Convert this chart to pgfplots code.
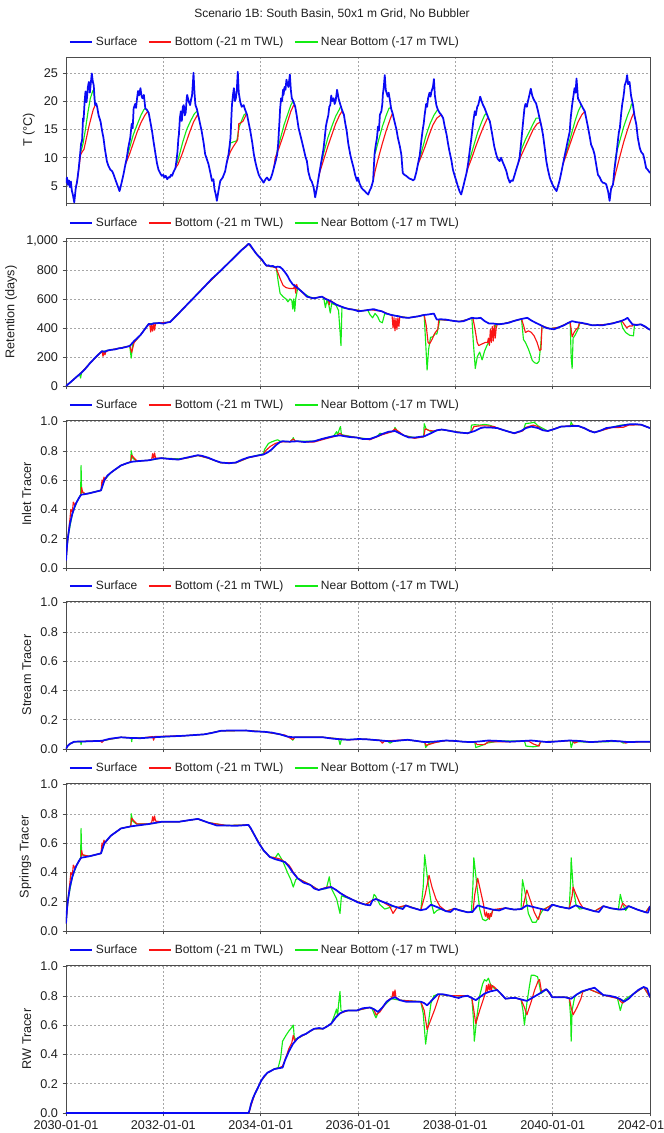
\documentclass[border=0pt]{standalone}
\usepackage{fontspec}
\setmainfont{Liberation Sans}
\usepackage{pgfplots}
\pgfplotsset{compat=1.18}

\definecolor{cblue}{RGB}{10,10,245}
\definecolor{cred}{RGB}{250,20,20}
\definecolor{cgreen}{RGB}{20,235,20}

\pgfplotsset{
  surf/.style={color=cblue, line width=1.3pt, line join=round},
  bot/.style={color=cred, line width=0.85pt, line join=round},
  nbot/.style={color=cgreen, line width=0.85pt, line join=round},
  panel/.style={
    scale only axis, width=438pt, anchor=north west,
    xmin=2030, xmax=2042, xtick={2030,2032,2034,2036,2038,2040,2042},
    xticklabels={},
    grid=major, grid style={dash pattern=on 1.5pt off 1.5pt, gray!70},
    axis line style={gray!60!black},
    tick style={gray!60!black, thin},
    major tick length=2.5pt, tick align=outside, tick pos=left,
    every tick label/.append style={font=\fontsize{9.5}{11}\selectfont, text=black!88},
    ylabel style={font=\fontsize{9.5}{11}\selectfont, text=black!88},
    /pgf/number format/assume math mode=true,
    unbounded coords=jump,
    legend columns=3,
    legend style={at={(0,1)}, anchor=west, xshift=2pt, yshift=11.25pt,
      draw=none, fill=none, inner sep=0pt,
      font=\fontsize{9}{10}\selectfont, text=black!88,
      /tikz/every even column/.append style={column sep=6pt}},
    legend image code/.code={\draw[##1] (0pt,0pt) -- (17pt,0pt);},
  },
  tracer/.style={ymin=0, ymax=1.01, ytick={0,0.2,0.4,0.6,0.8,1},
    yticklabel style={/pgf/number format/.cd, fixed, fixed zerofill, precision=1}},
}

\newcommand{\legendset}{%
  \addlegendimage{surf}\addlegendentry{Surface}
  \addlegendimage{bot, line width=1.1pt}\addlegendentry{Bottom (-21 m TWL)}
  \addlegendimage{nbot, line width=1.1pt}\addlegendentry{Near Bottom (-17 m TWL)}}

\begin{document}
\begin{tikzpicture}
\path[use as bounding box] (0pt,0pt) rectangle (498pt,-849.75pt);
\node[font=\fontsize{9}{10}\selectfont, text=black!88] at (249pt,-10.5pt)
  {Scenario 1B: South Basin, 50x1 m Grid, No Bubbler};

% ---------------- Temperature ----------------
\begin{axis}[panel, at={(49.5pt,-42.75pt)}, height=109.5pt,
  ymin=2, ymax=27.8, ytick={5,10,15,20,25}, ylabel={T (°C)}]
\legendset
\addplot[nbot, forget plot] coordinates {
(2030.29,10.6)(2030.31,11.2)(2030.35,12.5)(2030.40,15.0)(2030.45,18.0)(2030.50,20.5)(2030.55,21.8)(2030.57,22.0)(2030.60,19.3)(2030.61,nan)
(2031.25,10.0)(2031.30,11.5)(2031.38,14.0)(2031.46,15.8)(2031.54,17.5)(2031.60,18.5)(2031.63,18.7)(2031.64,nan)
(2032.28,9.0)(2032.33,10.5)(2032.40,12.8)(2032.48,15.0)(2032.56,16.5)(2032.64,17.8)(2032.69,18.2)(2032.70,nan)
(2033.33,10.0)(2033.36,11.5)(2033.38,12.6)(2033.44,12.8)(2033.51,13.0)(2033.56,15.5)(2033.62,16.8)(2033.66,17.6)(2033.70,17.8)(2033.71,nan)
(2034.31,9.5)(2034.33,10.8)(2034.40,13.2)(2034.48,15.8)(2034.56,17.8)(2034.62,19.3)(2034.64,19.6)(2034.67,20.0)(2034.68,nan)
(2035.23,8.5)(2035.30,11.0)(2035.38,13.5)(2035.46,15.5)(2035.54,17.3)(2035.62,18.6)(2035.64,19.0)(2035.65,nan)
(2036.34,10.6)(2036.36,11.0)(2036.42,13.0)(2036.50,15.5)(2036.58,17.5)(2036.64,18.8)(2036.68,18.7)(2036.69,nan)
(2037.27,9.8)(2037.32,11.5)(2037.40,14.0)(2037.48,16.0)(2037.56,17.5)(2037.62,18.3)(2037.64,18.5)(2037.65,nan)
(2038.26,8.8)(2038.30,9.8)(2038.38,12.2)(2038.46,14.5)(2038.54,16.3)(2038.60,17.5)(2038.64,17.9)(2038.65,nan)
(2039.32,10.0)(2039.36,11.5)(2039.44,13.2)(2039.52,14.6)(2039.60,16.0)(2039.66,17.0)(2039.70,17.0)(2039.73,17.0)(2039.74,nan)
(2040.25,10.0)(2040.30,11.5)(2040.38,14.0)(2040.46,16.5)(2040.53,18.3)(2040.57,19.0)(2040.59,19.3)(2040.60,nan)
(2041.27,8.0)(2041.30,10.5)(2041.38,13.0)(2041.46,15.5)(2041.54,17.5)(2041.60,18.8)(2041.62,19.5)(2041.65,19.3)
};
\addplot[bot, forget plot] coordinates {
(2030.20,4.6)(2030.23,5.9)(2030.27,8.5)(2030.30,10.5)(2030.33,11.0)(2030.37,11.5)(2030.42,13.5)(2030.47,15.5)(2030.52,17.2)(2030.56,18.5)(2030.60,19.3)(2030.61,nan)
(2031.22,8.8)(2031.30,10.5)(2031.38,12.5)(2031.46,14.5)(2031.54,16.2)(2031.62,17.5)(2031.68,18.2)(2031.70,17.9)(2031.71,nan)
(2032.25,8.2)(2032.30,8.8)(2032.38,10.5)(2032.46,12.5)(2032.54,14.5)(2032.62,16.3)(2032.69,17.4)(2032.71,17.6)(2032.73,17.0)(2032.74,nan)
(2033.30,9.0)(2033.34,10.2)(2033.38,11.1)(2033.44,12.0)(2033.51,12.9)(2033.53,13.3)(2033.55,16.0)(2033.60,16.2)(2033.64,16.5)(2033.68,17.2)(2033.71,17.8)(2033.72,17.6)(2033.73,nan)
(2034.27,8.2)(2034.30,10.0)(2034.38,11.8)(2034.46,13.8)(2034.54,16.0)(2034.62,18.2)(2034.68,19.3)(2034.71,19.0)(2034.72,nan)
(2035.19,6.5)(2035.22,7.6)(2035.30,9.8)(2035.38,12.0)(2035.46,14.0)(2035.54,16.0)(2035.62,17.5)(2035.67,18.2)(2035.71,17.6)(2035.72,nan)
(2036.31,5.9)(2036.36,8.0)(2036.42,10.0)(2036.50,12.5)(2036.58,14.8)(2036.66,16.8)(2036.71,17.9)(2036.72,nan)
(2037.23,8.8)(2037.30,10.2)(2037.38,12.0)(2037.46,14.0)(2037.54,15.8)(2037.62,17.0)(2037.71,17.6)(2037.72,nan)
(2038.23,7.3)(2038.26,8.2)(2038.34,10.0)(2038.42,12.0)(2038.50,13.8)(2038.58,15.5)(2038.66,17.0)(2038.68,17.0)(2038.69,nan)
(2039.29,9.0)(2039.36,10.5)(2039.44,12.0)(2039.52,13.5)(2039.60,15.0)(2039.68,16.0)(2039.75,16.3)(2039.77,15.5)(2039.78,nan)
(2040.21,8.8)(2040.28,10.5)(2040.36,12.5)(2040.44,14.5)(2040.52,16.3)(2040.60,17.6)(2040.66,18.2)(2040.67,nan)
(2041.20,4.5)(2041.24,5.3)(2041.30,7.5)(2041.38,10.2)(2041.46,12.8)(2041.54,15.0)(2041.62,17.0)(2041.67,18.0)(2041.68,17.5)
};
\addplot[surf, forget plot] coordinates {
(2030.00,5.5)(2030.02,6.5)(2030.04,5.2)(2030.06,6.0)(2030.08,4.8)(2030.10,5.8)(2030.12,4.2)(2030.14,3.5)(2030.17,2.1)(2030.20,4.6)(2030.23,5.9)(2030.26,8.0)(2030.29,10.6)(2030.31,12.5)(2030.33,13.0)(2030.35,17.0)(2030.36,16.4)(2030.38,19.5)(2030.40,21.7)(2030.42,19.8)(2030.43,20.5)(2030.45,22.5)(2030.47,23.4)(2030.49,21.5)(2030.50,22.3)(2030.53,24.9)(2030.55,23.5)(2030.57,22.8)(2030.59,20.0)(2030.60,19.3)(2030.62,19.6)(2030.64,19.0)(2030.67,17.5)(2030.71,16.4)(2030.74,14.8)(2030.77,13.5)(2030.80,11.5)(2030.84,9.4)(2030.87,8.6)(2030.91,7.9)(2030.95,7.6)(2030.98,7.0)(2031.02,6.0)(2031.05,5.3)(2031.08,4.6)(2031.10,4.1)
(2031.14,5.5)(2031.18,7.0)(2031.22,8.8)(2031.25,10.0)(2031.28,11.8)(2031.32,13.5)(2031.35,16.0)(2031.37,15.2)(2031.39,18.7)(2031.42,19.5)(2031.44,18.8)(2031.46,20.5)(2031.48,21.8)(2031.50,21.0)(2031.53,22.3)(2031.55,21.0)(2031.57,20.5)(2031.60,21.1)(2031.63,18.7)(2031.66,18.5)(2031.70,17.9)(2031.73,16.5)(2031.77,14.6)(2031.80,12.8)(2031.84,10.6)(2031.87,9.0)(2031.90,7.9)(2031.94,7.2)(2031.97,6.8)(2032.00,7.0)(2032.02,6.5)(2032.05,6.8)(2032.08,6.2)(2032.11,6.6)(2032.13,6.5)(2032.16,7.0)(2032.18,6.8)(2032.21,7.5)(2032.25,8.2)
(2032.27,9.5)(2032.29,11.0)(2032.31,13.5)(2032.32,14.1)(2032.34,17.0)(2032.36,18.2)(2032.38,16.5)(2032.40,19.0)(2032.42,19.3)(2032.44,17.5)(2032.46,18.0)(2032.48,20.5)(2032.49,21.1)(2032.52,20.0)(2032.55,19.3)(2032.57,20.3)(2032.59,21.0)(2032.61,23.5)(2032.62,25.0)(2032.64,21.5)(2032.66,19.3)(2032.69,18.6)(2032.73,17.0)(2032.76,15.8)(2032.79,14.6)(2032.83,12.5)(2032.86,10.6)(2032.90,9.6)(2032.93,8.8)(2032.97,7.2)(2033.00,5.9)(2033.03,6.2)(2033.05,4.5)(2033.08,3.4)(2033.10,2.4)(2033.13,4.0)(2033.17,5.9)(2033.22,6.5)(2033.27,7.6)(2033.30,9.0)
(2033.34,10.6)(2033.36,12.0)(2033.38,13.5)(2033.40,17.5)(2033.41,19.3)(2033.43,21.0)(2033.45,22.3)(2033.47,20.0)(2033.49,20.5)(2033.51,22.0)(2033.53,25.2)(2033.55,21.5)(2033.58,19.9)(2033.61,19.0)(2033.65,19.3)(2033.68,18.5)(2033.72,17.6)(2033.75,16.3)(2033.79,14.6)(2033.83,12.5)(2033.86,10.6)(2033.89,9.3)(2033.92,8.2)(2033.96,7.0)(2033.99,6.5)(2034.03,6.0)(2034.06,5.6)(2034.10,6.2)(2034.13,6.5)(2034.17,6.0)(2034.20,6.2)(2034.24,7.2)(2034.27,8.2)
(2034.31,9.5)(2034.34,10.6)(2034.36,12.5)(2034.37,14.0)(2034.39,17.0)(2034.40,18.7)(2034.42,20.5)(2034.44,20.0)(2034.46,22.0)(2034.47,21.1)(2034.49,22.5)(2034.51,22.0)(2034.53,23.8)(2034.54,23.4)(2034.57,22.5)(2034.60,24.7)(2034.62,22.0)(2034.64,20.5)(2034.67,20.0)(2034.71,19.0)(2034.74,17.5)(2034.78,15.2)(2034.83,13.5)(2034.88,11.7)(2034.92,10.2)(2034.95,9.4)(2034.98,7.5)(2035.02,6.2)(2035.05,5.8)(2035.09,4.7)(2035.12,3.0)(2035.16,4.8)(2035.19,6.5)
(2035.23,8.5)(2035.26,10.0)(2035.29,11.5)(2035.31,13.0)(2035.34,15.5)(2035.36,16.4)(2035.39,17.5)(2035.41,19.0)(2035.43,19.3)(2035.45,21.0)(2035.47,20.0)(2035.50,20.5)(2035.52,19.5)(2035.54,20.0)(2035.57,22.0)(2035.60,20.5)(2035.64,19.3)(2035.67,18.5)(2035.71,17.6)(2035.74,16.0)(2035.77,14.6)(2035.80,12.5)(2035.84,10.6)(2035.87,9.5)(2035.91,8.2)(2035.94,7.0)(2035.98,5.9)(2036.00,6.5)(2036.03,5.5)(2036.07,4.7)(2036.10,4.4)(2036.14,4.1)(2036.17,3.8)(2036.21,3.5)(2036.24,4.2)(2036.27,4.7)(2036.31,5.9)
(2036.34,10.6)(2036.36,12.0)(2036.39,13.5)(2036.41,15.5)(2036.43,14.8)(2036.45,17.6)(2036.48,18.2)(2036.50,19.5)(2036.51,21.1)(2036.53,22.5)(2036.55,24.6)(2036.57,22.0)(2036.58,21.7)(2036.61,20.8)(2036.63,21.5)(2036.65,20.5)(2036.68,18.7)(2036.71,17.9)(2036.75,16.4)(2036.79,15.0)(2036.82,13.5)(2036.86,12.0)(2036.89,10.6)(2036.92,7.3)(2036.95,7.0)(2036.99,6.8)(2037.03,6.5)(2037.06,6.3)(2037.10,6.2)(2037.13,6.0)(2037.16,6.2)(2037.20,7.5)(2037.23,8.8)
(2037.27,10.5)(2037.30,12.9)(2037.33,15.0)(2037.35,16.0)(2037.37,17.6)(2037.40,19.5)(2037.42,19.0)(2037.44,20.5)(2037.47,21.5)(2037.49,20.8)(2037.51,21.7)(2037.54,22.5)(2037.56,23.9)(2037.58,21.0)(2037.61,19.3)(2037.64,18.5)(2037.68,17.9)(2037.71,17.6)(2037.75,17.0)(2037.78,15.6)(2037.82,14.1)(2037.85,12.5)(2037.88,11.1)(2037.92,9.5)(2037.95,7.9)(2037.98,7.0)(2038.02,5.9)(2038.05,5.0)(2038.09,4.0)(2038.12,3.5)(2038.16,4.8)(2038.19,5.9)(2038.23,7.3)(2038.26,8.8)
(2038.30,11.5)(2038.33,13.5)(2038.35,15.0)(2038.37,16.5)(2038.40,18.2)(2038.42,17.5)(2038.45,19.0)(2038.47,19.3)(2038.49,20.0)(2038.51,20.8)(2038.54,20.0)(2038.57,19.3)(2038.60,18.8)(2038.64,17.9)(2038.68,17.0)(2038.71,16.4)(2038.74,15.0)(2038.77,13.5)(2038.80,12.0)(2038.84,10.6)(2038.87,9.8)(2038.91,9.4)(2038.94,10.0)(2038.98,9.1)(2039.01,8.5)(2039.05,7.6)(2039.08,6.5)(2039.12,5.6)(2039.15,6.0)(2039.18,5.9)(2039.22,7.0)(2039.25,7.9)(2039.29,9.0)
(2039.32,10.0)(2039.35,12.5)(2039.38,15.2)(2039.40,17.0)(2039.42,18.7)(2039.44,19.5)(2039.47,19.0)(2039.49,19.9)(2039.52,21.0)(2039.55,22.2)(2039.58,21.0)(2039.60,20.5)(2039.63,20.0)(2039.66,19.6)(2039.70,18.2)(2039.73,17.0)(2039.77,15.5)(2039.80,14.1)(2039.84,11.5)(2039.87,9.4)(2039.90,8.0)(2039.94,6.5)(2039.97,5.8)(2040.01,5.0)(2040.04,4.6)(2040.08,4.1)(2040.11,5.0)(2040.14,5.9)(2040.18,7.5)(2040.21,8.8)
(2040.25,10.5)(2040.28,11.7)(2040.31,13.0)(2040.35,14.6)(2040.37,17.0)(2040.40,19.3)(2040.42,20.5)(2040.45,22.3)(2040.47,21.5)(2040.49,24.0)(2040.52,20.5)(2040.55,20.0)(2040.59,19.3)(2040.62,18.8)(2040.66,18.2)(2040.70,16.5)(2040.73,15.2)(2040.76,13.8)(2040.79,12.3)(2040.83,11.5)(2040.86,10.6)(2040.90,8.5)(2040.93,7.0)(2040.97,6.5)(2041.00,5.9)(2041.03,5.6)(2041.07,5.5)(2041.10,5.3)(2041.14,4.0)(2041.17,2.4)(2041.20,4.5)(2041.24,5.3)
(2041.27,8.0)(2041.31,10.6)(2041.34,13.0)(2041.36,14.5)(2041.38,15.2)(2041.41,18.0)(2041.43,19.5)(2041.45,20.5)(2041.47,21.8)(2041.48,22.8)(2041.51,23.5)(2041.53,24.6)(2041.55,23.0)(2041.58,23.4)(2041.61,21.0)(2041.65,19.3)(2041.68,17.5)(2041.72,15.8)(2041.75,13.5)(2041.79,11.7)(2041.82,11.0)(2041.86,10.6)(2041.89,9.5)(2041.92,8.2)(2041.96,7.8)(2042.00,7.3)
};
\end{axis}

% ---------------- Retention ----------------
\begin{axis}[panel, at={(49.5pt,-178.5pt)}, height=111pt,
  ymin=0, ymax=1020, ytick={0,200,400,600,800,1000}, ylabel={Retention (days)},
  yticklabel style={/pgf/number format/1000 sep={,}}]
\legendset
\addplot[nbot, forget plot] coordinates {
(2030.00,0)(2030.20,58)(2030.28,80)(2030.30,55)(2030.32,92)(2030.50,160)(2030.70,228)(2030.74,240)(2030.76,215)(2030.78,240)(2030.92,249)(2031.09,260)(2031.31,276)(2031.34,192)(2031.37,290)(2031.53,351)(2031.70,428)(2031.92,434)(2032.14,441)(2032.84,683)(2033.18,795)(2033.60,935)(2033.75,980)(2033.95,897)(2034.12,829)(2034.30,818)
(2034.32,818)(2034.36,720)(2034.40,638)(2034.46,616)(2034.52,600)(2034.56,580)(2034.60,600)(2034.64,590)(2034.66,530)(2034.68,600)(2034.70,515)(2034.72,600)(2034.76,675)(2034.88,640)(2035.02,610)(2035.15,608)(2035.26,616)
(2035.30,600)(2035.33,540)(2035.36,590)(2035.40,560)(2035.43,503)(2035.46,570)(2035.55,556)(2035.60,520)(2035.63,380)(2035.65,279)(2035.67,540)(2035.72,537)(2035.91,526)(2036.08,518)
(2036.20,523)(2036.25,490)(2036.30,470)(2036.35,500)(2036.40,480)(2036.45,445)(2036.50,436)(2036.55,500)(2036.66,492)(2036.83,481)(2037.04,470)(2037.25,481)
(2037.36,490)(2037.39,300)(2037.42,110)(2037.45,250)(2037.49,335)(2037.54,340)(2037.58,360)(2037.62,358)(2037.66,420)(2037.68,458)(2037.90,452)(2038.08,444)(2038.25,458)
(2038.34,470)(2038.37,300)(2038.41,121)(2038.45,200)(2038.50,234)(2038.55,180)(2038.60,240)(2038.65,280)(2038.69,301)(2038.74,330)(2038.80,390)(2038.84,430)(2039.00,430)(2039.20,448)
(2039.36,462)(2039.40,320)(2039.44,301)(2039.50,256)(2039.56,200)(2039.58,177)(2039.63,160)(2039.68,155)(2039.72,170)(2039.76,300)(2039.78,415)(2039.94,395)(2040.13,405)(2040.32,435)
(2040.36,440)(2040.38,200)(2040.40,121)(2040.42,330)(2040.46,350)(2040.52,390)(2040.56,436)(2040.82,418)(2041.12,425)(2041.32,440)
(2041.40,447)(2041.44,400)(2041.50,369)(2041.58,350)(2041.66,346)(2041.68,420)(2041.81,425)(2041.98,391)(2042.00,388)
};
\addplot[bot, forget plot] coordinates {
(2030.00,0)(2030.31,90)(2030.50,160)(2030.70,228)(2030.74,240)(2030.76,205)(2030.78,232)(2030.80,215)(2030.82,238)(2030.92,249)(2031.09,260)(2031.31,276)(2031.35,232)(2031.40,300)(2031.53,351)(2031.70,428)
(2031.72,428)(2031.74,372)(2031.76,425)(2031.78,378)(2031.80,430)(2031.82,385)(2031.84,432)(2031.92,434)(2032.14,441)(2032.84,683)(2033.18,795)(2033.60,935)(2033.75,980)(2033.95,897)(2034.12,829)(2034.30,818)
(2034.32,812)(2034.40,740)(2034.46,694)(2034.52,678)(2034.60,672)(2034.68,672)(2034.70,700)(2034.72,640)(2034.74,700)(2034.76,675)(2034.95,616)(2035.08,604)(2035.26,616)(2035.39,593)
(2035.41,560)(2035.43,590)(2035.56,560)(2035.74,537)(2035.91,526)(2036.08,518)(2036.25,526)(2036.49,515)(2036.66,492)
(2036.70,485)(2036.72,400)(2036.74,470)(2036.76,380)(2036.78,465)(2036.80,390)(2036.82,470)(2036.84,410)(2036.86,478)(2037.04,470)(2037.25,481)
(2037.36,490)(2037.40,420)(2037.44,300)(2037.47,290)(2037.52,320)(2037.58,365)(2037.64,391)(2037.66,458)(2037.90,452)(2038.08,444)(2038.25,458)
(2038.36,470)(2038.40,400)(2038.45,300)(2038.48,279)(2038.55,290)(2038.62,301)(2038.66,300)(2038.68,330)(2038.70,280)(2038.72,390)(2038.74,300)(2038.76,410)(2038.78,310)(2038.80,420)(2038.82,330)(2038.84,400)(2038.86,425)(2039.00,430)(2039.20,448)
(2039.36,462)(2039.40,420)(2039.44,369)(2039.50,380)(2039.56,370)(2039.62,345)(2039.68,300)(2039.73,245)(2039.76,250)(2039.78,415)(2039.94,395)(2040.13,405)(2040.32,435)
(2040.36,440)(2040.40,339)(2040.44,369)(2040.48,390)(2040.52,402)(2040.55,436)(2040.82,418)(2041.12,425)(2041.32,440)
(2041.42,450)(2041.46,430)(2041.52,402)(2041.58,414)(2041.64,414)(2041.66,425)(2041.81,425)(2041.98,391)(2042.00,388)
};
\addplot[surf, forget plot] coordinates {
(2030.00,0)(2030.10,28)(2030.20,58)(2030.31,90)(2030.40,120)(2030.50,160)(2030.60,195)(2030.70,228)(2030.74,240)(2030.80,236)(2030.85,245)(2030.92,249)(2031.00,252)(2031.09,260)(2031.15,262)(2031.22,268)(2031.31,276)(2031.40,310)(2031.53,351)(2031.62,392)(2031.70,428)(2031.75,425)(2031.80,432)(2031.92,434)(2032.00,430)(2032.08,438)(2032.14,441)(2032.30,495)(2032.50,565)(2032.70,634)(2032.84,683)(2033.00,740)(2033.18,795)(2033.40,868)(2033.60,935)(2033.70,962)(2033.75,980)(2033.78,975)(2033.85,940)(2033.90,915)(2033.95,897)(2034.00,880)(2034.03,870)(2034.08,845)(2034.12,829)(2034.16,832)(2034.20,825)(2034.25,828)(2034.30,818)(2034.35,823)(2034.40,820)(2034.45,805)(2034.50,784)(2034.55,760)(2034.60,728)(2034.66,700)(2034.71,688)(2034.76,675)(2034.81,661)(2034.88,640)(2034.95,616)(2035.02,610)(2035.08,604)(2035.15,608)(2035.20,612)(2035.26,616)(2035.33,600)(2035.39,593)(2035.47,578)(2035.56,560)(2035.65,548)(2035.74,537)(2035.82,530)(2035.91,526)(2036.01,515)(2036.08,518)(2036.15,521)(2036.25,526)(2036.32,530)(2036.40,522)(2036.49,515)(2036.58,500)(2036.66,492)(2036.75,485)(2036.83,481)(2036.93,472)(2037.04,470)(2037.15,476)(2037.25,481)(2037.33,488)(2037.42,492)(2037.50,496)(2037.56,499)(2037.60,470)(2037.62,458)(2037.70,460)(2037.80,458)(2037.90,452)(2038.00,447)(2038.08,444)(2038.17,447)(2038.25,458)(2038.34,470)(2038.43,466)(2038.52,470)(2038.60,448)(2038.69,431)(2038.79,430)(2038.89,425)(2039.00,430)(2039.10,436)(2039.20,448)(2039.31,458)(2039.40,465)(2039.48,470)(2039.56,452)(2039.65,436)(2039.75,420)(2039.85,402)(2039.94,395)(2040.03,391)(2040.13,405)(2040.23,418)(2040.32,435)(2040.40,447)(2040.49,440)(2040.58,436)(2040.70,428)(2040.82,418)(2040.92,420)(2041.02,418)(2041.12,425)(2041.23,431)(2041.32,440)(2041.40,447)(2041.48,458)(2041.54,470)(2041.58,450)(2041.64,425)(2041.72,420)(2041.81,425)(2041.90,410)(2041.98,391)(2042.00,388)
};
\end{axis}

% ---------------- Inlet tracer ----------------
\begin{axis}[panel, tracer, at={(49.5pt,-315pt)}, height=111pt, ylabel={Inlet Tracer}]
\legendset
\addplot[nbot, forget plot] coordinates {
(2030.00,0.05)(2030.04,0.21)(2030.13,0.37)(2030.22,0.45)(2030.30,0.50)(2030.31,0.70)(2030.32,0.52)(2030.40,0.505)(2030.72,0.53)(2030.79,0.60)(2030.92,0.65)(2031.13,0.70)(2031.33,0.725)(2031.34,0.80)(2031.37,0.75)(2031.45,0.73)(2031.70,0.735)(2031.96,0.75)(2032.31,0.745)(2032.50,0.752)(2032.71,0.768)(2032.92,0.75)(2033.18,0.718)(2033.49,0.718)(2033.75,0.753)(2034.06,0.78)(2034.08,0.81)(2034.12,0.83)(2034.16,0.85)(2034.22,0.86)(2034.30,0.87)(2034.35,0.875)(2034.40,0.865)(2034.60,0.862)(2034.66,0.88)(2034.67,0.89)(2034.70,0.865)(2035.10,0.865)(2035.37,0.89)(2035.50,0.90)(2035.56,0.93)(2035.58,0.91)(2035.62,0.95)(2035.64,0.965)(2035.66,0.91)(2035.98,0.89)(2036.24,0.88)(2036.40,0.90)(2036.45,0.92)(2036.50,0.915)(2036.74,0.935)(2036.76,0.96)(2036.80,0.935)(2036.94,0.905)(2037.16,0.89)(2037.35,0.895)(2037.36,0.985)(2037.40,0.95)(2037.50,0.93)(2037.72,0.945)(2037.90,0.935)(2038.25,0.92)(2038.32,0.93)(2038.33,0.975)(2038.40,0.978)(2038.50,0.975)(2038.60,0.98)(2038.70,0.975)(2038.86,0.955)(2039.21,0.92)(2039.40,0.94)(2039.44,0.985)(2039.55,0.99)(2039.62,0.995)(2039.70,0.97)(2039.90,0.935)(2040.17,0.965)(2040.36,0.968)(2040.38,0.995)(2040.42,0.97)(2040.52,0.97)(2040.86,0.925)(2041.21,0.96)(2041.40,0.975)(2041.56,0.98)(2041.82,0.978)(2042.00,0.955)
};
\addplot[bot, forget plot] coordinates {
(2030.00,0.05)(2030.04,0.21)(2030.08,0.33)(2030.10,0.40)(2030.13,0.38)(2030.15,0.45)(2030.18,0.43)(2030.22,0.45)(2030.27,0.48)(2030.31,0.50)(2030.32,0.55)(2030.34,0.52)(2030.40,0.505)(2030.48,0.51)(2030.60,0.52)(2030.72,0.53)(2030.74,0.60)(2030.76,0.58)(2030.78,0.62)(2030.80,0.60)(2030.85,0.63)(2030.92,0.65)(2031.13,0.70)(2031.25,0.715)(2031.33,0.725)(2031.35,0.77)(2031.40,0.75)(2031.46,0.73)(2031.70,0.735)(2031.76,0.74)(2031.78,0.78)(2031.80,0.75)(2031.82,0.785)(2031.84,0.75)(2031.96,0.75)(2032.31,0.74)(2032.50,0.752)(2032.71,0.768)(2032.92,0.75)(2033.18,0.718)(2033.49,0.718)(2033.75,0.753)(2034.06,0.775)(2034.10,0.80)(2034.20,0.83)(2034.30,0.85)(2034.40,0.86)(2034.60,0.862)(2034.67,0.88)(2034.72,0.865)(2034.90,0.86)(2035.10,0.86)(2035.37,0.885)(2035.55,0.90)(2035.63,0.92)(2035.68,0.905)(2035.98,0.89)(2036.24,0.875)(2036.50,0.91)(2036.70,0.93)(2036.76,0.95)(2036.82,0.935)(2036.94,0.905)(2037.16,0.885)(2037.35,0.895)(2037.38,0.95)(2037.45,0.94)(2037.55,0.935)(2037.72,0.945)(2037.90,0.935)(2038.25,0.918)(2038.33,0.93)(2038.38,0.965)(2038.50,0.97)(2038.65,0.97)(2038.80,0.965)(2038.86,0.955)(2039.21,0.918)(2039.38,0.935)(2039.45,0.96)(2039.60,0.975)(2039.70,0.965)(2039.80,0.94)(2039.90,0.935)(2040.17,0.965)(2040.38,0.97)(2040.40,0.975)(2040.52,0.97)(2040.86,0.925)(2041.21,0.958)(2041.45,0.96)(2041.56,0.975)(2041.82,0.978)(2042.00,0.955)
};
\addplot[surf, forget plot] coordinates {
(2030.00,0.05)(2030.02,0.15)(2030.04,0.21)(2030.08,0.30)(2030.13,0.37)(2030.18,0.42)(2030.22,0.45)(2030.27,0.48)(2030.31,0.50)(2030.40,0.505)(2030.48,0.51)(2030.60,0.52)(2030.72,0.53)(2030.76,0.57)(2030.79,0.60)(2030.85,0.63)(2030.92,0.65)(2031.00,0.67)(2031.13,0.70)(2031.25,0.715)(2031.35,0.725)(2031.50,0.73)(2031.70,0.735)(2031.85,0.745)(2031.96,0.75)(2032.10,0.745)(2032.31,0.74)(2032.50,0.755)(2032.71,0.77)(2032.80,0.765)(2032.92,0.753)(2033.05,0.735)(2033.18,0.72)(2033.35,0.715)(2033.49,0.72)(2033.62,0.74)(2033.75,0.755)(2033.90,0.765)(2034.06,0.775)(2034.15,0.79)(2034.23,0.81)(2034.32,0.84)(2034.40,0.86)(2034.45,0.865)(2034.60,0.862)(2034.76,0.865)(2034.90,0.86)(2035.10,0.865)(2035.25,0.88)(2035.37,0.89)(2035.50,0.90)(2035.63,0.905)(2035.80,0.895)(2035.98,0.89)(2036.10,0.88)(2036.24,0.88)(2036.37,0.895)(2036.50,0.915)(2036.63,0.93)(2036.76,0.935)(2036.85,0.92)(2036.94,0.905)(2037.05,0.89)(2037.16,0.89)(2037.27,0.895)(2037.37,0.90)(2037.50,0.92)(2037.62,0.94)(2037.72,0.945)(2037.82,0.94)(2037.90,0.935)(2038.05,0.925)(2038.25,0.92)(2038.40,0.935)(2038.52,0.955)(2038.60,0.96)(2038.75,0.958)(2038.86,0.955)(2039.00,0.94)(2039.10,0.93)(2039.21,0.92)(2039.35,0.935)(2039.45,0.955)(2039.56,0.965)(2039.70,0.955)(2039.80,0.94)(2039.90,0.935)(2040.05,0.95)(2040.17,0.965)(2040.35,0.968)(2040.52,0.97)(2040.65,0.955)(2040.76,0.935)(2040.86,0.925)(2041.00,0.94)(2041.10,0.955)(2041.21,0.96)(2041.40,0.97)(2041.56,0.98)(2041.70,0.982)(2041.82,0.978)(2041.92,0.965)(2042.00,0.955)
};
\end{axis}

% ---------------- Stream tracer ----------------
\begin{axis}[panel, tracer, at={(49.5pt,-450.75pt)}, height=111pt, ylabel={Stream Tracer}]
\legendset
\addplot[nbot, forget plot] coordinates {
(2030.00,0.0)(2030.03,0.02)(2030.08,0.035)(2030.17,0.05)(2030.30,0.05)(2030.31,0.03)(2030.32,0.05)(2030.74,0.056)(2031.13,0.08)(2031.34,0.075)(2031.35,0.05)(2031.36,0.075)(2031.80,0.08)(2032.40,0.09)(2032.84,0.10)(2033.18,0.124)(2033.71,0.126)(2034.06,0.118)(2034.40,0.10)(2034.60,0.08)(2034.66,0.06)(2034.70,0.08)(2035.28,0.08)(2035.60,0.07)(2035.63,0.03)(2035.66,0.065)(2036.15,0.067)(2036.60,0.055)(2036.66,0.04)(2036.72,0.053)(2037.02,0.063)(2037.37,0.047)(2037.39,0.01)(2037.45,0.035)(2037.55,0.045)(2037.81,0.058)(2038.33,0.047)(2038.40,0.048)(2038.42,0.01)(2038.55,0.025)(2038.65,0.04)(2038.90,0.055)(2039.42,0.055)(2039.45,0.02)(2039.60,0.015)(2039.70,0.02)(2039.76,0.05)(2040.10,0.052)(2040.36,0.058)(2040.38,0.01)(2040.42,0.05)(2040.78,0.047)(2041.40,0.052)(2041.45,0.04)(2041.50,0.045)(2041.80,0.05)(2042.00,0.05)
};
\addplot[bot, forget plot] coordinates {
(2030.00,0.0)(2030.03,0.02)(2030.08,0.035)(2030.17,0.05)(2030.70,0.056)(2030.74,0.045)(2030.78,0.06)(2031.13,0.08)(2031.53,0.074)(2031.78,0.085)(2031.80,0.06)(2031.82,0.085)(2032.40,0.09)(2032.84,0.10)(2033.18,0.124)(2033.71,0.126)(2034.06,0.118)(2034.50,0.095)(2034.60,0.075)(2034.66,0.065)(2034.70,0.08)(2035.28,0.08)(2035.80,0.063)(2036.15,0.067)(2036.45,0.06)(2036.50,0.04)(2036.55,0.055)(2037.02,0.063)(2037.37,0.047)(2037.40,0.025)(2037.50,0.035)(2037.60,0.045)(2037.81,0.058)(2038.33,0.047)(2038.40,0.048)(2038.45,0.03)(2038.60,0.03)(2038.68,0.05)(2039.12,0.05)(2039.50,0.055)(2039.60,0.035)(2039.72,0.02)(2039.75,0.05)(2040.10,0.052)(2040.40,0.058)(2040.45,0.04)(2040.55,0.055)(2040.78,0.047)(2041.21,0.056)(2041.45,0.05)(2041.50,0.04)(2041.56,0.047)(2042.00,0.05)
};
\addplot[surf, forget plot] coordinates {
(2030.00,0.0)(2030.03,0.02)(2030.08,0.035)(2030.17,0.05)(2030.40,0.052)(2030.74,0.056)(2030.90,0.07)(2031.13,0.08)(2031.35,0.075)(2031.53,0.074)(2031.80,0.08)(2032.05,0.085)(2032.40,0.09)(2032.84,0.10)(2033.00,0.11)(2033.18,0.124)(2033.40,0.127)(2033.71,0.126)(2033.88,0.12)(2034.06,0.118)(2034.23,0.112)(2034.40,0.10)(2034.55,0.085)(2034.67,0.08)(2035.00,0.08)(2035.28,0.08)(2035.50,0.07)(2035.80,0.063)(2036.00,0.068)(2036.15,0.067)(2036.40,0.06)(2036.68,0.052)(2036.85,0.058)(2037.02,0.063)(2037.20,0.055)(2037.37,0.047)(2037.55,0.05)(2037.81,0.058)(2038.00,0.055)(2038.15,0.05)(2038.33,0.047)(2038.50,0.052)(2038.68,0.058)(2038.90,0.055)(2039.12,0.05)(2039.35,0.054)(2039.56,0.058)(2039.75,0.052)(2039.90,0.047)(2040.10,0.052)(2040.34,0.058)(2040.55,0.055)(2040.78,0.047)(2041.00,0.052)(2041.21,0.056)(2041.40,0.052)(2041.56,0.047)(2041.80,0.05)(2042.00,0.05)
};
\end{axis}

% ---------------- Springs tracer ----------------
\begin{axis}[panel, tracer, at={(49.5pt,-587.25pt)}, height=111pt, ylabel={Springs Tracer}]
\legendset
\addplot[nbot, forget plot] coordinates {
(2030.00,0.05)(2030.04,0.21)(2030.13,0.37)(2030.22,0.45)(2030.30,0.50)(2030.31,0.70)(2030.32,0.52)(2030.48,0.51)(2030.72,0.53)(2030.79,0.60)(2030.92,0.65)(2031.13,0.70)(2031.33,0.715)(2031.34,0.80)(2031.37,0.75)(2031.45,0.73)(2031.70,0.73)(2031.96,0.745)(2032.31,0.745)(2032.71,0.765)(2032.92,0.74)(2033.30,0.72)(2033.75,0.724)(2033.88,0.65)(2034.06,0.55)(2034.19,0.505)(2034.30,0.50)(2034.36,0.53)(2034.45,0.48)(2034.55,0.40)(2034.62,0.35)(2034.67,0.30)(2034.72,0.35)(2034.76,0.36)(2035.02,0.315)(2035.19,0.28)(2035.35,0.29)(2035.38,0.33)(2035.41,0.37)(2035.44,0.30)(2035.50,0.26)(2035.56,0.22)(2035.63,0.12)(2035.66,0.24)(2035.89,0.213)(2036.15,0.18)(2036.30,0.21)(2036.33,0.25)(2036.36,0.24)(2036.45,0.18)(2036.55,0.15)(2036.65,0.16)(2036.72,0.17)(2036.85,0.157)(2036.98,0.175)(2037.29,0.142)(2037.34,0.30)(2037.37,0.52)(2037.42,0.38)(2037.50,0.20)(2037.56,0.12)(2037.62,0.14)(2037.70,0.15)(2037.81,0.135)(2037.98,0.153)(2038.25,0.128)(2038.33,0.13)(2038.36,0.30)(2038.38,0.50)(2038.44,0.32)(2038.50,0.15)(2038.56,0.08)(2038.62,0.07)(2038.70,0.09)(2038.77,0.14)(2039.03,0.157)(2039.21,0.146)(2039.35,0.15)(2039.38,0.35)(2039.44,0.25)(2039.50,0.12)(2039.58,0.06)(2039.66,0.06)(2039.72,0.10)(2039.80,0.145)(2039.99,0.18)(2040.15,0.165)(2040.34,0.153)(2040.37,0.35)(2040.38,0.50)(2040.42,0.30)(2040.48,0.18)(2040.55,0.15)(2040.65,0.155)(2040.86,0.135)(2041.04,0.17)(2041.20,0.155)(2041.35,0.145)(2041.39,0.25)(2041.44,0.18)(2041.50,0.14)(2041.56,0.17)(2041.75,0.145)(2041.91,0.128)(2042.00,0.17)
};
\addplot[bot, forget plot] coordinates {
(2030.00,0.05)(2030.04,0.21)(2030.08,0.33)(2030.10,0.40)(2030.13,0.38)(2030.15,0.45)(2030.18,0.43)(2030.22,0.45)(2030.31,0.50)(2030.32,0.55)(2030.34,0.52)(2030.48,0.51)(2030.72,0.53)(2030.74,0.60)(2030.76,0.58)(2030.78,0.62)(2030.80,0.60)(2030.92,0.65)(2031.13,0.70)(2031.33,0.715)(2031.35,0.77)(2031.40,0.75)(2031.46,0.73)(2031.70,0.73)(2031.76,0.74)(2031.78,0.78)(2031.80,0.75)(2031.82,0.785)(2031.84,0.75)(2031.96,0.745)(2032.31,0.745)(2032.71,0.765)(2032.92,0.74)(2033.30,0.72)(2033.75,0.724)(2033.88,0.65)(2034.06,0.55)(2034.19,0.505)(2034.30,0.50)(2034.41,0.49)(2034.50,0.47)(2034.58,0.45)(2034.64,0.42)(2034.67,0.40)(2034.72,0.38)(2034.76,0.36)(2035.02,0.315)(2035.19,0.28)(2035.37,0.30)(2035.45,0.30)(2035.55,0.28)(2035.63,0.26)(2035.89,0.213)(2036.15,0.18)(2036.30,0.21)(2036.37,0.22)(2036.50,0.20)(2036.65,0.17)(2036.72,0.12)(2036.76,0.14)(2036.80,0.16)(2036.98,0.175)(2037.29,0.142)(2037.38,0.25)(2037.46,0.38)(2037.52,0.30)(2037.60,0.22)(2037.68,0.17)(2037.81,0.135)(2037.98,0.153)(2038.25,0.128)(2038.36,0.13)(2038.40,0.25)(2038.46,0.36)(2038.52,0.27)(2038.58,0.18)(2038.60,0.12)(2038.62,0.10)(2038.64,0.13)(2038.66,0.09)(2038.68,0.12)(2038.70,0.08)(2038.72,0.12)(2038.74,0.10)(2038.77,0.146)(2039.03,0.157)(2039.21,0.146)(2039.38,0.15)(2039.47,0.28)(2039.55,0.20)(2039.62,0.13)(2039.68,0.09)(2039.71,0.08)(2039.76,0.15)(2039.82,0.146)(2039.99,0.18)(2040.15,0.165)(2040.34,0.153)(2040.40,0.24)(2040.42,0.30)(2040.48,0.25)(2040.56,0.19)(2040.62,0.16)(2040.86,0.135)(2041.04,0.17)(2041.20,0.155)(2041.39,0.146)(2041.44,0.19)(2041.50,0.17)(2041.56,0.17)(2041.75,0.145)(2041.91,0.128)(2042.00,0.17)
};
\addplot[surf, forget plot] coordinates {
(2030.00,0.05)(2030.02,0.15)(2030.04,0.21)(2030.08,0.30)(2030.13,0.37)(2030.18,0.42)(2030.22,0.45)(2030.27,0.48)(2030.31,0.50)(2030.48,0.51)(2030.72,0.53)(2030.76,0.57)(2030.79,0.60)(2030.92,0.65)(2031.13,0.70)(2031.35,0.715)(2031.70,0.73)(2031.96,0.745)(2032.31,0.745)(2032.50,0.755)(2032.71,0.765)(2032.92,0.74)(2033.10,0.72)(2033.30,0.72)(2033.49,0.718)(2033.75,0.724)(2033.80,0.70)(2033.88,0.65)(2033.96,0.60)(2034.06,0.55)(2034.19,0.505)(2034.30,0.49)(2034.41,0.48)(2034.50,0.47)(2034.58,0.44)(2034.66,0.40)(2034.76,0.36)(2034.88,0.33)(2035.02,0.315)(2035.10,0.29)(2035.19,0.28)(2035.30,0.29)(2035.45,0.30)(2035.55,0.28)(2035.63,0.26)(2035.75,0.235)(2035.89,0.213)(2036.00,0.195)(2036.15,0.18)(2036.25,0.175)(2036.30,0.21)(2036.37,0.218)(2036.50,0.20)(2036.59,0.19)(2036.72,0.17)(2036.85,0.157)(2036.92,0.15)(2036.98,0.175)(2037.10,0.16)(2037.29,0.142)(2037.40,0.15)(2037.50,0.18)(2037.65,0.16)(2037.81,0.135)(2037.90,0.13)(2037.98,0.153)(2038.10,0.14)(2038.25,0.128)(2038.35,0.13)(2038.46,0.175)(2038.60,0.16)(2038.77,0.146)(2038.90,0.14)(2039.03,0.157)(2039.21,0.146)(2039.35,0.15)(2039.47,0.175)(2039.65,0.16)(2039.82,0.146)(2039.90,0.14)(2039.99,0.18)(2040.15,0.165)(2040.34,0.153)(2040.47,0.175)(2040.65,0.155)(2040.86,0.135)(2040.95,0.13)(2041.04,0.17)(2041.20,0.155)(2041.39,0.146)(2041.48,0.15)(2041.56,0.17)(2041.75,0.145)(2041.91,0.128)(2041.96,0.125)(2042.00,0.17)
};
\end{axis}

% ---------------- RW tracer ----------------
\begin{axis}[panel, tracer, at={(49.5pt,-723.75pt)}, height=111pt, ylabel={RW Tracer},
  xticklabels={2030-01-01,2032-01-01,2034-01-01,2036-01-01,2038-01-01,2040-01-01,2042-01-01}]
\legendset
\addplot[nbot, forget plot] coordinates {
(2030.00,0.0)(2033.76,0.0)(2033.80,0.06)(2033.88,0.13)(2034.01,0.22)(2034.14,0.275)(2034.28,0.30)(2034.36,0.31)(2034.41,0.375)(2034.45,0.49)(2034.52,0.53)(2034.58,0.56)(2034.63,0.58)(2034.67,0.60)(2034.69,0.52)(2034.72,0.50)(2034.76,0.51)(2034.93,0.54)(2035.10,0.575)(2035.28,0.575)(2035.45,0.61)(2035.52,0.67)(2035.56,0.71)(2035.58,0.66)(2035.60,0.74)(2035.63,0.83)(2035.65,0.70)(2035.70,0.69)(2035.80,0.70)(2035.98,0.70)(2036.24,0.72)(2036.28,0.72)(2036.34,0.67)(2036.37,0.65)(2036.42,0.69)(2036.50,0.72)(2036.68,0.78)(2036.86,0.77)(2037.29,0.76)(2037.34,0.68)(2037.39,0.47)(2037.44,0.60)(2037.50,0.75)(2037.56,0.80)(2037.64,0.81)(2037.90,0.80)(2038.25,0.80)(2038.34,0.785)(2038.37,0.65)(2038.39,0.49)(2038.44,0.65)(2038.50,0.80)(2038.56,0.88)(2038.60,0.91)(2038.64,0.90)(2038.68,0.92)(2038.72,0.88)(2038.80,0.85)(2038.86,0.84)(2039.03,0.78)(2039.24,0.785)(2039.35,0.775)(2039.39,0.70)(2039.42,0.60)(2039.47,0.75)(2039.52,0.86)(2039.56,0.94)(2039.62,0.94)(2039.69,0.93)(2039.73,0.87)(2039.76,0.815)(2039.87,0.845)(2039.99,0.79)(2040.25,0.79)(2040.34,0.785)(2040.37,0.65)(2040.38,0.49)(2040.40,0.70)(2040.45,0.79)(2040.50,0.81)(2040.75,0.845)(2041.04,0.805)(2041.33,0.785)(2041.39,0.70)(2041.44,0.76)(2041.50,0.78)(2041.65,0.81)(2041.87,0.86)(2042.00,0.79)
};
\addplot[bot, forget plot] coordinates {
(2030.00,0.0)(2033.76,0.0)(2033.80,0.05)(2033.88,0.13)(2034.01,0.22)(2034.14,0.275)(2034.28,0.30)(2034.36,0.305)(2034.45,0.32)(2034.52,0.38)(2034.58,0.44)(2034.64,0.48)(2034.67,0.53)(2034.70,0.49)(2034.76,0.51)(2034.93,0.54)(2035.10,0.575)(2035.28,0.575)(2035.45,0.61)(2035.52,0.64)(2035.56,0.66)(2035.63,0.68)(2035.80,0.70)(2035.98,0.70)(2036.24,0.72)(2036.32,0.71)(2036.37,0.67)(2036.45,0.69)(2036.59,0.76)(2036.70,0.79)(2036.72,0.83)(2036.74,0.79)(2036.76,0.84)(2036.78,0.79)(2036.86,0.77)(2037.29,0.76)(2037.36,0.70)(2037.42,0.57)(2037.50,0.64)(2037.58,0.71)(2037.64,0.77)(2037.68,0.81)(2037.90,0.80)(2038.25,0.80)(2038.34,0.785)(2038.38,0.70)(2038.42,0.61)(2038.50,0.70)(2038.58,0.78)(2038.62,0.82)(2038.64,0.87)(2038.66,0.83)(2038.68,0.88)(2038.70,0.84)(2038.72,0.88)(2038.74,0.83)(2038.76,0.87)(2038.80,0.86)(2038.86,0.84)(2039.03,0.78)(2039.24,0.785)(2039.35,0.775)(2039.42,0.72)(2039.47,0.67)(2039.55,0.75)(2039.63,0.84)(2039.70,0.90)(2039.73,0.91)(2039.77,0.83)(2039.87,0.845)(2039.99,0.79)(2040.25,0.79)(2040.34,0.785)(2040.38,0.72)(2040.42,0.67)(2040.50,0.72)(2040.58,0.78)(2040.62,0.83)(2040.75,0.845)(2041.04,0.805)(2041.35,0.78)(2041.40,0.76)(2041.44,0.75)(2041.50,0.77)(2041.56,0.78)(2041.65,0.81)(2041.87,0.86)(2042.00,0.79)
};
\addplot[surf, forget plot] coordinates {
(2030.00,0.0)(2033.75,0.0)(2033.78,0.03)(2033.80,0.06)(2033.84,0.10)(2033.88,0.13)(2033.94,0.17)(2034.01,0.22)(2034.07,0.25)(2034.14,0.275)(2034.20,0.285)(2034.28,0.30)(2034.36,0.305)(2034.45,0.31)(2034.50,0.36)(2034.58,0.42)(2034.66,0.47)(2034.76,0.51)(2034.85,0.53)(2034.93,0.54)(2035.02,0.56)(2035.10,0.575)(2035.20,0.58)(2035.28,0.575)(2035.36,0.59)(2035.45,0.61)(2035.54,0.65)(2035.63,0.68)(2035.72,0.695)(2035.80,0.70)(2035.90,0.70)(2035.98,0.70)(2036.10,0.715)(2036.24,0.72)(2036.32,0.71)(2036.41,0.69)(2036.50,0.72)(2036.59,0.76)(2036.68,0.78)(2036.76,0.79)(2036.86,0.77)(2036.98,0.76)(2037.15,0.76)(2037.29,0.76)(2037.36,0.75)(2037.42,0.735)(2037.52,0.77)(2037.64,0.81)(2037.75,0.81)(2037.90,0.80)(2038.00,0.79)(2038.07,0.785)(2038.15,0.795)(2038.25,0.80)(2038.34,0.785)(2038.42,0.77)(2038.50,0.79)(2038.60,0.815)(2038.72,0.83)(2038.86,0.84)(2038.95,0.81)(2039.03,0.78)(2039.15,0.785)(2039.24,0.785)(2039.35,0.775)(2039.47,0.765)(2039.60,0.79)(2039.73,0.815)(2039.87,0.845)(2039.94,0.82)(2039.99,0.79)(2040.12,0.79)(2040.25,0.79)(2040.38,0.78)(2040.50,0.81)(2040.60,0.83)(2040.75,0.845)(2040.86,0.855)(2040.95,0.83)(2041.04,0.805)(2041.17,0.80)(2041.30,0.79)(2041.40,0.775)(2041.47,0.76)(2041.56,0.78)(2041.65,0.81)(2041.76,0.84)(2041.87,0.86)(2041.94,0.85)(2042.00,0.79)
};
\end{axis}
\end{tikzpicture}
\end{document}
